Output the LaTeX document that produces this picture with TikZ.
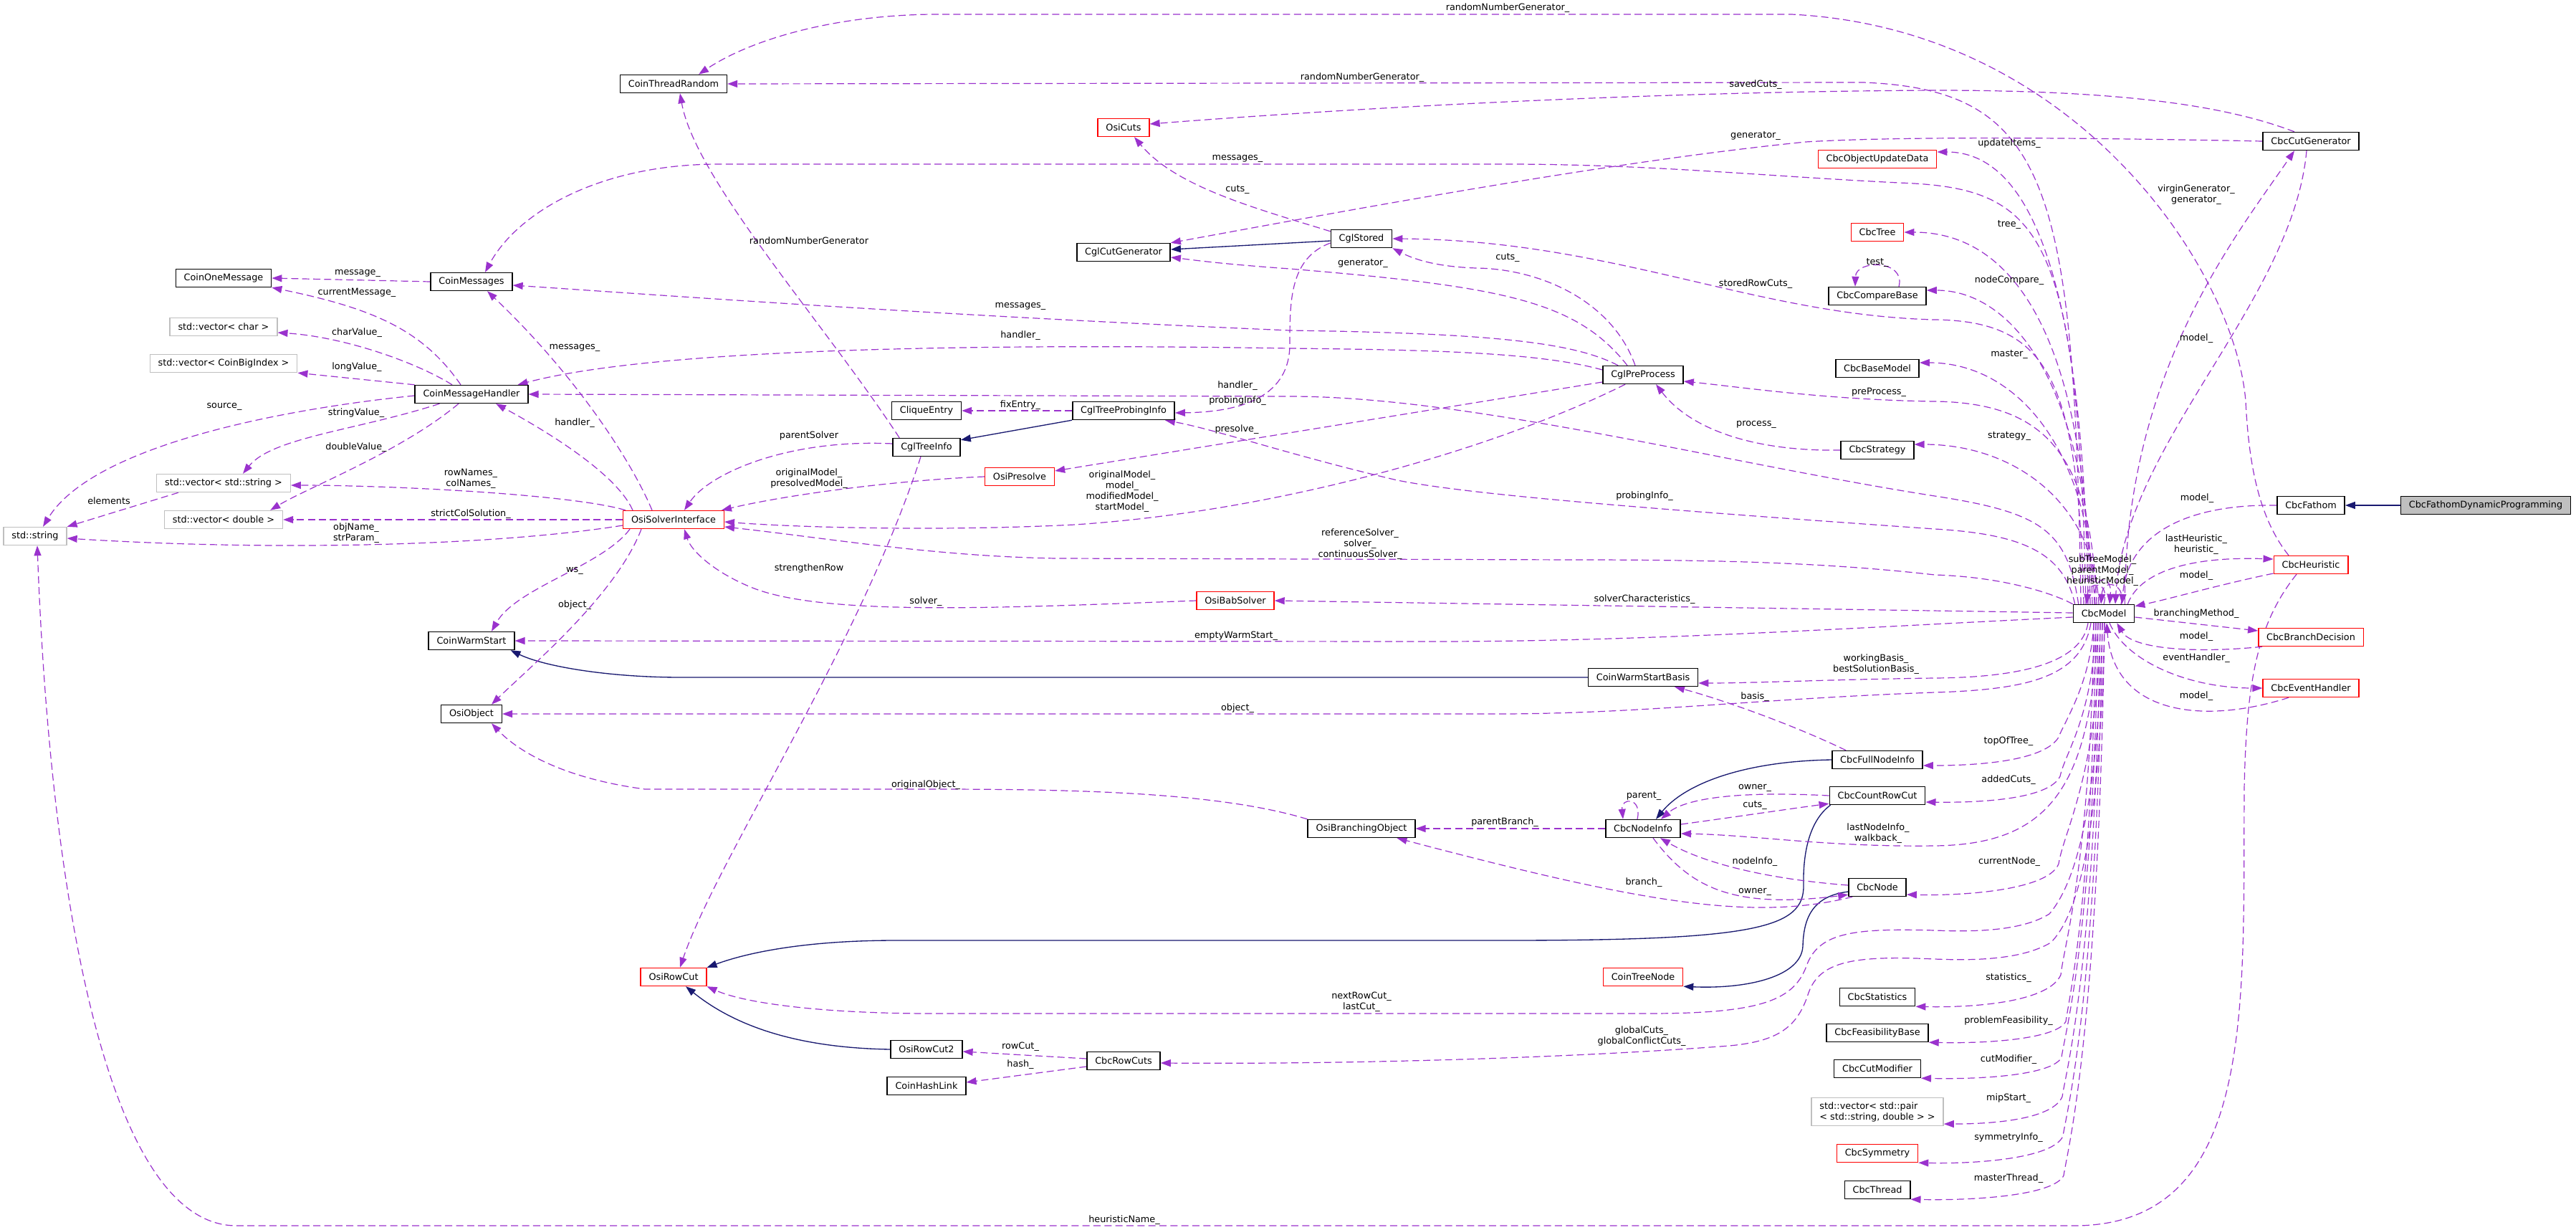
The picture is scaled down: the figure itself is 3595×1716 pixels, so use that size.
\documentclass[tikz,border=0pt]{standalone}
\usepackage{fontspec}
\setmainfont{DejaVu Sans}
\usetikzlibrary{arrows.meta,calc}
\definecolor{purp}{RGB}{154,50,205}
\definecolor{navyb}{RGB}{25,25,112}
\definecolor{grayb}{RGB}{191,191,191}
\definecolor{redb}{RGB}{255,0,0}
\newcommand\dxfont{\fontsize{9.6pt}{11.3pt}\selectfont}
\pgfdeclarelayer{edges}
\pgfsetlayers{edges,main}
\tikzset{
  cls/.style={draw=black, fill=white, line width=1.1pt, minimum height=18.7pt, inner xsep=8.5pt, inner ysep=2pt, font=\dxfont},
  redcls/.style={cls, draw=redb},
  graycls/.style={cls, draw=grayb},
  focuscls/.style={cls, fill=grayb},
  lbl/.style={font=\dxfont, inner sep=0pt, align=center},
  coll/.style={draw=purp, line width=0.9pt, dash pattern=on 7.5pt off 4pt, -{Triangle[length=10.5pt,width=7.5pt]}},
  inh/.style={draw=navyb, line width=1pt, -{Triangle[length=10.5pt,width=7.5pt]}},
}
\begin{document}
\begin{tikzpicture}[x=0.75pt,y=-0.75pt]
\useasboundingbox (0,0) rectangle (3595,1716);
% ---------------- nodes ----------------
\node[focuscls] (CDP) at (3469,705) {CbcFathomDynamicProgramming};
\node[cls] (Fathom) at (3225,705) {CbcFathom};
\node[redcls] (Heur) at (3225,788) {CbcHeuristic};
\node[cls] (Model) at (2936,856) {CbcModel};
\node[redcls] (BrDec) at (3225,889) {CbcBranchDecision};
\node[redcls] (EvH) at (3225,960) {CbcEventHandler};
\node[cls] (CutGen) at (3225,197) {CbcCutGenerator};
\node[redcls] (ObjUpd) at (2620,222) {CbcObjectUpdateData};
\node[redcls] (Tree) at (2620,324) {CbcTree};
\node[cls] (CmpBase) at (2620,413) {CbcCompareBase};
\node[cls] (BaseModel) at (2620,514) {CbcBaseModel};
\node[cls] (Strategy) at (2620,628) {CbcStrategy};
\node[cls] (WSB) at (2293,945) {CoinWarmStartBasis};
\node[cls] (FullNI) at (2620,1060) {CbcFullNodeInfo};
\node[cls] (CRC) at (2620,1110) {CbcCountRowCut};
\node[cls] (Node) at (2620,1238) {CbcNode};
\node[cls] (Stats) at (2620,1391) {CbcStatistics};
\node[cls] (Feas) at (2620,1441) {CbcFeasibilityBase};
\node[cls] (CutMod) at (2620,1491) {CbcCutModifier};
\node[graycls, align=left, minimum height=29pt] (VecPair) at (2620,1551) {std::vector< std::pair\\< std::string, double > >};
\node[redcls] (Sym) at (2620,1609) {CbcSymmetry};
\node[cls] (Thread) at (2620,1660) {CbcThread};
\node[cls] (PreProc) at (2293,523) {CglPreProcess};
\node[cls] (NodeInfo) at (2293,1156) {CbcNodeInfo};
\node[redcls] (TreeNode) at (2293,1363) {CoinTreeNode};
\node[cls] (Stored) at (1900,333) {CglStored};
\node[cls] (OBO) at (1900,1156) {OsiBranchingObject};
\node[redcls] (OsiCuts) at (1568,178) {OsiCuts};
\node[cls] (CglCG) at (1568,352) {CglCutGenerator};
\node[cls] (TPI) at (1568,573) {CglTreeProbingInfo};
\node[redcls] (BabSolver) at (1724,838) {OsiBabSolver};
\node[cls] (RowCuts) at (1568,1480) {CbcRowCuts};
\node[redcls] (Presolve) at (1423,665) {OsiPresolve};
\node[cls] (Clique) at (1293,573) {CliqueEntry};
\node[cls] (TreeInfo) at (1293,624) {CglTreeInfo};
\node[cls] (RowCut2) at (1293,1464) {OsiRowCut2};
\node[cls] (HashLink) at (1293,1515) {CoinHashLink};
\node[cls] (CTR) at (940,117) {CoinThreadRandom};
\node[redcls] (OSI) at (940,725) {OsiSolverInterface};
\node[redcls] (RowCut) at (940,1363) {OsiRowCut};
\node[cls] (Msgs) at (658,393) {CoinMessages};
\node[cls] (CMH) at (658,550) {CoinMessageHandler};
\node[cls] (WS) at (658,894) {CoinWarmStart};
\node[cls] (OsiObj) at (658,996) {OsiObject};
\node[cls] (OneMsg) at (312,388) {CoinOneMessage};
\node[graycls] (VChar) at (312,456) {std::vector< char >};
\node[graycls] (VBig) at (312,507) {std::vector< CoinBigIndex >};
\node[graycls] (VStr) at (312,674) {std::vector< std::string >};
\node[graycls] (VDbl) at (312,725) {std::vector< double >};
\node[graycls] (Str) at (49,748) {std::string};
% ---------------- labels ----------------
\node[lbl] (l01) at (2104,11) {randomNumberGenerator\_};
\node[lbl] (l02) at (1901,108) {randomNumberGenerator\_};
\node[lbl] (l03) at (2450,118) {savedCuts\_};
\node[lbl] (l04) at (2450,190) {generator\_};
\node[lbl] (l05) at (2804,200) {updateItems\_};
\node[lbl] (l06) at (1727,221) {messages\_};
\node[lbl] (l07) at (1727,265) {cuts\_};
\node[lbl] (l08) at (3065,272) {virginGenerator\_\\generator\_};
\node[lbl] (l09) at (2804,314) {tree\_};
\node[lbl] (l10) at (1129,336) {randomNumberGenerator};
\node[lbl] (l11) at (2104,360) {cuts\_};
\node[lbl] (l12) at (2620,367) {test\_};
\node[lbl] (l13) at (1902,368) {generator\_};
\node[lbl] (l14) at (2804,391) {nodeCompare\_};
\node[lbl] (l15) at (2450,396) {storedRowCuts\_};
\node[lbl] (l16) at (1424,427) {messages\_};
\node[lbl] (l17) at (1424,468) {handler\_};
\node[lbl] (l18) at (3065,472) {model\_};
\node[lbl] (l19) at (2804,495) {master\_};
\node[lbl] (l20) at (1727,538) {handler\_};
\node[lbl] (l21) at (2622,547) {preProcess\_};
\node[lbl] (l22) at (1727,559) {probingInfo\_};
\node[lbl] (l23) at (1424,565) {fixEntry\_};
\node[lbl] (l24) at (2451,592) {process\_};
\node[lbl] (l25) at (1726,599) {presolve\_};
\node[lbl] (l26) at (1129,608) {parentSolver};
\node[lbl] (l27) at (2804,609) {strategy\_};
\node[lbl] (l28) at (1129,668) {originalModel\_\\presolvedModel\_};
\node[lbl] (l29) at (1566,686) {originalModel\_\\model\_\\modifiedModel\_\\startModel\_};
\node[lbl] (l30) at (2295,692) {probingInfo\_};
\node[lbl] (l31) at (3066,695) {model\_};
\node[lbl] (l32) at (3065,760) {lastHeuristic\_\\heuristic\_};
\node[lbl] (l33) at (2934,796) {subTreeModel\_\\parentModel\_\\heuristicModel\_};
\node[lbl] (l34) at (1898,759) {referenceSolver\_\\solver\_\\continuousSolver\_};
\node[lbl] (l35) at (1129,793) {strengthenRow};
\node[lbl] (l36) at (3065,803) {model\_};
\node[lbl] (l37) at (2295,836) {solverCharacteristics\_};
\node[lbl] (l38) at (1292,839) {solver\_};
\node[lbl] (l39) at (3065,856) {branchingMethod\_};
\node[lbl] (l40) at (1725,887) {emptyWarmStart\_};
\node[lbl] (l41) at (3065,888) {model\_};
\node[lbl] (l42) at (3065,918) {eventHandler\_};
\node[lbl] (l43) at (2618,927) {workingBasis\_\\bestSolutionBasis\_};
\node[lbl] (l44) at (3065,971) {model\_};
\node[lbl] (l45) at (2449,972) {basis\_};
\node[lbl] (l46) at (1727,988) {object\_};
\node[lbl] (l47) at (2803,1034) {topOfTree\_};
\node[lbl] (l48) at (2803,1088) {addedCuts\_};
\node[lbl] (l49) at (1292,1095) {originalObject\_};
\node[lbl] (l50) at (2449,1099) {owner\_};
\node[lbl] (l51) at (2294,1111) {parent\_};
\node[lbl] (l52) at (2449,1124) {cuts\_};
\node[lbl] (l53) at (2100,1147) {parentBranch\_};
\node[lbl] (l54) at (2621,1163) {lastNodeInfo\_\\walkback\_};
\node[lbl] (l55) at (2449,1202) {nodeInfo\_};
\node[lbl] (l56) at (2804,1202) {currentNode\_};
\node[lbl] (l57) at (2294,1231) {branch\_};
\node[lbl] (l58) at (2449,1244) {owner\_};
\node[lbl] (l59) at (2803,1364) {statistics\_};
\node[lbl] (l60) at (1900,1398) {nextRowCut\_\\lastCut\_};
\node[lbl] (l61) at (2803,1424) {problemFeasibility\_};
\node[lbl] (l62) at (2291,1446) {globalCuts\_\\globalConflictCuts\_};
\node[lbl] (l63) at (1424,1460) {rowCut\_};
\node[lbl] (l64) at (2803,1478) {cutModifier\_};
\node[lbl] (l65) at (1424,1485) {hash\_};
\node[lbl] (l66) at (2803,1532) {mipStart\_};
\node[lbl] (l67) at (2803,1587) {symmetryInfo\_};
\node[lbl] (l68) at (2803,1644) {masterThread\_};
\node[lbl] (l69) at (1569,1702) {heuristicName\_};
\node[lbl] (l70) at (499,381) {message\_};
\node[lbl] (l71) at (498,408) {currentMessage\_};
\node[lbl] (l72) at (498,464) {charValue\_};
\node[lbl] (l73) at (498,512) {longValue\_};
\node[lbl] (l74) at (313,567) {source\_};
\node[lbl] (l75) at (497,576) {stringValue\_};
\node[lbl] (l76) at (497,624) {doubleValue\_};
\node[lbl] (l77) at (152,699) {elements};
\node[lbl] (l78) at (802,485) {messages\_};
\node[lbl] (l79) at (802,590) {handler\_};
\node[lbl] (l80) at (657,668) {rowNames\_\\colNames\_};
\node[lbl] (l81) at (657,717) {strictColSolution\_};
\node[lbl] (l82) at (497,744) {objName\_\\strParam\_};
\node[lbl] (l83) at (802,796) {ws\_};
\node[lbl] (l84) at (802,844) {object\_};
% ---------------- edges ----------------
\begin{pgfonlayer}{edges}
\fill[white] (0,0) rectangle (3595,1716);
% inheritance
\draw[inh] (CDP.west) -- (Fathom.east);
\draw[inh] ($(Stored.west)+(0,3)$) -- ($(CglCG.east)+(0,-4)$);
\draw[inh] (TPI.south west) -- ($(TreeInfo.north east)+(0,3)$);
\draw[inh] (WSB.west) -- (950,945) .. controls (850,945) and (760,930) .. ($(WS.south east)+(-6,0)$);
\draw[inh] (FullNI.west) .. controls (2430,1062) and (2350,1095) .. ($(NodeInfo.north)+(18,0)$);
\draw[inh] ($(CRC.south west)+(2,0)$) .. controls (2525,1145) and (2516,1190) .. (2517,1235) .. controls (2518,1295) and (2450,1312) .. (2100,1312) -- (1250,1312) .. controls (1120,1312) and (1040,1330) .. (RowCut.north east);
\draw[inh] ($(Node.west)+(0,6)$) .. controls (2530,1250) and (2517,1280) .. (2516,1320) .. controls (2514,1362) and (2440,1380) .. (TreeNode.south east);
\draw[inh] (RowCut2.west) .. controls (1120,1462) and (1030,1435) .. ($(RowCut.south)+(17,0)$);
% CbcModel top fan
\draw[coll] ($(Model.north)+(-32,0)$) .. controls (2895,260) and (2860,125) .. (2600,115) -- (CTR.east);
\draw[coll] ($(Model.north)+(-25,0)$) .. controls (2900,320) and (2850,262) .. (2650,255) .. controls (2450,245) and (2300,229) .. (2100,229) -- (1000,229) .. controls (830,230) and (720,300) .. ($(Msgs.north)+(19,0)$);
\draw[coll] ($(Model.north)+(-22,0)$) .. controls (2908,380) and (2830,212) .. ($(ObjUpd.east)+(0,-10)$);
\draw[coll] ($(Model.north)+(-19,0)$) .. controls (2912,470) and (2810,324) .. (Tree.east);
\draw[coll] ($(Model.north)+(-16,0)$) .. controls (2914,540) and (2810,405) .. ($(CmpBase.east)+(0,-8)$);
\draw[coll] ($(Model.north)+(-13,0)$) .. controls (2917,620) and (2810,506) .. ($(BaseModel.east)+(0,-8)$);
\draw[coll] ($(Model.north)+(-10,0)$) .. controls (2918,640) and (2860,562) .. (2700,560) .. controls (2550,558) and (2430,540) .. ($(PreProc.east)+(0,9)$);
\draw[coll] ($(Model.north)+(-7,0)$) .. controls (2922,700) and (2810,620) .. ($(Strategy.east)+(0,-8)$);
\draw[coll] ($(Model.north)+(-28,0)$) .. controls (2900,530) and (2860,448) .. (2700,446) .. controls (2450,440) and (2250,335) .. (Stored.east);
\draw[coll] ($(Model.north west)+(8,0)$) .. controls (2885,740) and (2850,715) .. (2700,692) .. controls (2400,645) and (2050,553) .. (1800,553) -- (CMH.east);
\draw[coll] ($(Model.north west)+(3,0)$) .. controls (2880,770) and (2820,745) .. (2700,738) .. controls (2300,710) and (2050,690) .. (1950,670) .. controls (1800,635) and (1700,600) .. ($(TPI.south east)+(-14,0)$);
\draw[coll] (Model.north west) .. controls (2870,830) and (2800,805) .. (2700,802) .. controls (2550,785) and (2400,781) .. (2200,781) -- (1474,779) .. controls (1300,776) and (1150,750) .. ($(OSI.east)+(0,10)$);
\draw[coll] ($(Model.west)+(0,-1)$) -- (BabSolver.east);
\draw[coll] ($(Model.west)+(0,5)$) .. controls (2600,875) and (2300,895) .. (2000,895) -- (WS.east);
% self loops
\draw[coll] (Model.north) .. controls (2945,810) and (2915,810) .. ($(Model.north)+(-24,0)$);
\draw[coll] ($(Model.north)+(-12,0)$) .. controls (2918,800) and (2948,800) .. ($(Model.north)+(8,0)$);
\draw[coll] ($(Model.north)+(24,0)$) .. controls (2968,815) and (2935,805) .. ($(Model.north)+(-4,0)$);
% CbcModel bottom fan
\draw[coll] ($(Model.south)+(-22,0)$) .. controls (2905,925) and (2820,945) .. (2700,946) .. controls (2550,948) and (2450,953) .. ($(WSB.east)+(0,8)$);
\draw[coll] ($(Model.south)+(-18,0)$) .. controls (2905,945) and (2830,962) .. (2700,966) .. controls (2450,975) and (2300,995) .. (2100,996) -- (OsiObj.east);
\draw[coll] ($(Model.south)+(-14,0)$) .. controls (2918,950) and (2885,1000) .. (2872,1030) .. controls (2850,1062) and (2760,1068) .. ($(FullNI.east)+(0,8)$);
\draw[coll] ($(Model.south)+(-11,0)$) .. controls (2921,1000) and (2882,1050) .. (2875,1083) .. controls (2860,1114) and (2770,1120) .. ($(CRC.east)+(0,9)$);
\draw[coll] ($(Model.south)+(-8,0)$) .. controls (2918,1100) and (2860,1178) .. (2700,1180) .. controls (2550,1182) and (2450,1165) .. ($(NodeInfo.east)+(0,7)$);
\draw[coll] ($(Model.south)+(-5,0)$) .. controls (2928,1080) and (2880,1160) .. (2873,1205) .. controls (2860,1240) and (2750,1250) .. ($(Node.east)+(0,10)$);
\draw[coll] ($(Model.south)+(-2,0)$) .. controls (2928,1150) and (2890,1240) .. (2860,1275) .. controls (2820,1300) and (2750,1300) .. (2700,1298) .. controls (2590,1295) and (2540,1300) .. (2522,1345) .. controls (2505,1395) and (2460,1414) .. (2300,1414) -- (1300,1414) .. controls (1150,1414) and (1040,1400) .. (RowCut.south east);
\draw[coll] ($(Model.south)+(1,0)$) .. controls (2930,1200) and (2892,1285) .. (2862,1315) .. controls (2820,1340) and (2750,1340) .. (2700,1338) .. controls (2590,1333) and (2540,1340) .. (2524,1385) .. controls (2508,1435) and (2480,1455) .. (2400,1460) .. controls (2200,1475) and (1900,1485) .. ($(RowCuts.east)+(0,3)$);
\draw[coll] ($(Model.south)+(-14,0)$) .. controls (2918,1200) and (2880,1320) .. (2876,1360) .. controls (2860,1397) and (2760,1406) .. (Stats.south east);
\draw[coll] ($(Model.south)+(-11,0)$) .. controls (2920,1250) and (2888,1390) .. (2883,1425) .. controls (2870,1450) and (2770,1456) .. (Feas.south east);
\draw[coll] ($(Model.south)+(-8,0)$) .. controls (2922,1300) and (2882,1440) .. (2877,1475) .. controls (2865,1500) and (2765,1506) .. (CutMod.south east);
\draw[coll] ($(Model.south)+(-5,0)$) .. controls (2924,1350) and (2883,1495) .. (2878,1530) .. controls (2865,1560) and (2790,1568) .. ($(VecPair.south east)+(0,-3)$);
\draw[coll] ($(Model.south)+(-2,0)$) .. controls (2926,1400) and (2884,1550) .. (2879,1585) .. controls (2866,1615) and (2765,1624) .. (Sym.south east);
\draw[coll] ($(Model.south)+(1,0)$) .. controls (2928,1450) and (2885,1605) .. (2880,1640) .. controls (2866,1668) and (2755,1675) .. (Thread.south east);
% right side
\draw[coll] (Fathom.west) .. controls (3060,703) and (2970,740) .. ($(Model.north east)+(-18,0)$);
\draw[coll] ($(Model.north east)+(-10,0)$) .. controls (2985,800) and (3050,776) .. ($(Heur.west)+(0,-8)$);
\draw[coll] ($(Heur.west)+(0,12)$) .. controls (3100,815) and (3030,835) .. ($(Model.north east)+(0,3)$);
\draw[coll] ($(Model.east)+(0,5)$) -- ($(BrDec.west)+(0,-9)$);
\draw[coll] ($(BrDec.south west)+(6,0)$) .. controls (3060,912) and (2975,905) .. ($(Model.south east)+(-25,0)$);
\draw[coll] ($(Model.south)+(8,0)$) .. controls (2965,920) and (3050,960) .. (EvH.west);
\draw[coll] ($(EvH.south)+(-31,0)$) .. controls (3080,1010) and (2950,1000) .. ($(Model.south)+(4,0)$);
% CbcCutGenerator
\draw[coll] ($(Model.north east)+(-14,0)$) .. controls (2965,520) and (3120,330) .. ($(CutGen.south)+(-23,0)$);
\draw[coll] ($(CutGen.south)+(-6,0)$) .. controls (3200,420) and (2965,620) .. ($(Model.north)+(16,0)$);
\draw[coll] ($(CutGen.north)+(-23,0)$) .. controls (3100,145) and (2950,126) .. (2700,126) .. controls (2300,128) and (1900,150) .. ($(OsiCuts.east)+(0,-5)$);
\draw[coll] (CutGen.west) .. controls (2900,192) and (2650,190) .. (2520,198) .. controls (2250,225) and (1900,290) .. (CglCG.north east);
% CbcHeuristic
\draw[coll] ($(Heur.north)+(-31,0)$) .. controls (3150,720) and (3138,640) .. (3134,560) .. controls (3120,380) and (2900,40) .. (2500,20) -- (1300,20) .. controls (1150,22) and (1040,60) .. ($(CTR.north)+(35,0)$);
\draw[coll] ($(Heur.south)+(-20,0)$) .. controls (3150,870) and (3135,950) .. (3132,1100) .. controls (3130,1400) and (3150,1705) .. (2900,1710) -- (330,1710) .. controls (150,1710) and (70,1250) .. ($(Str.south)+(3,0)$);
% left cluster
\draw[coll] (Msgs.west) -- (OneMsg.east);
\draw[coll] ($(CMH.north)+(-15,0)$) .. controls (590,460) and (520,430) .. (OneMsg.south east);
\draw[coll] ($(CMH.north)+(-27,0)$) .. controls (580,505) and (480,470) .. ($(VChar.east)+(0,8)$);
\draw[coll] (CMH.north west) -- (VBig.south east);
\draw[coll] ($(CMH.west)+(0,2)$) .. controls (400,570) and (130,620) .. ($(Str.north)+(11,0)$);
\draw[coll] ($(CMH.south west)+(35,0)$) .. controls (500,600) and (380,610) .. ($(VStr.north)+(27,0)$);
\draw[coll] ($(CMH.south)+(-18,0)$) .. controls (560,630) and (430,680) .. ($(VDbl.north east)+(-18,0)$);
\draw[coll] ($(VStr.south west)+(31,0)$) -- (Str.north east);
\draw[coll] ($(OSI.north west)+(14,0)$) .. controls (860,660) and (760,600) .. ($(CMH.south)+(34,0)$);
\draw[coll] ($(OSI.north)+(-30,0)$) .. controls (880,640) and (800,520) .. ($(Msgs.south)+(22,0)$);
\draw[coll] ($(OSI.north west)+(4,0)$) .. controls (800,690) and (550,677) .. ($(VStr.east)+(0,3)$);
\draw[coll] (OSI.west) -- (VDbl.east);
\draw[coll] ($(OSI.west)+(0,8)$) .. controls (700,760) and (400,770) .. ($(Str.east)+(0,3)$);
\draw[coll] ($(OSI.south west)+(10,0)$) .. controls (840,790) and (720,820) .. ($(WS.north)+(28,0)$);
\draw[coll] ($(OSI.south)+(-45,0)$) .. controls (860,830) and (740,930) .. ($(OsiObj.north)+(28,0)$);
\draw[coll] (OBO.north west) .. controls (1700,1105) and (1500,1101) .. (1300,1101) -- (900,1101) .. controls (780,1085) and (720,1045) .. ($(OsiObj.south)+(28,0)$);
% middle
\draw[coll] (NodeInfo.west) -- (OBO.east);
\draw[coll] ($(Node.south west)+(6,0)$) .. controls (2450,1285) and (2300,1262) .. ($(OBO.south east)+(-26,0)$);
\draw[coll] ($(Node.west)+(0,-3)$) .. controls (2450,1225) and (2370,1200) .. ($(NodeInfo.south)+(24,0)$);
\draw[coll] ($(NodeInfo.south)+(14,0)$) .. controls (2360,1240) and (2420,1268) .. ($(Node.south west)+(0,-3)$);
\draw[coll] (CRC.west) .. controls (2420,1103) and (2350,1115) .. ($(NodeInfo.north)+(25,0)$);
\draw[coll] ($(NodeInfo.east)+(0,-6)$) .. controls (2420,1140) and (2500,1128) .. ($(CRC.south west)+(0,-2)$);
\draw[coll] ($(NodeInfo.north)+(-8,0)$) .. controls (2292,1112) and (2262,1112) .. ($(NodeInfo.north)+(-28,0)$);
\draw[coll] ($(FullNI.north west)+(20,0)$) .. controls (2500,1010) and (2400,975) .. ($(WSB.south)+(44,0)$);
\draw[coll] ($(RowCuts.west)+(0,-3)$) -- ($(RowCut2.east)+(0,3)$);
\draw[coll] ($(RowCuts.west)+(0,8)$) -- ($(HashLink.east)+(0,-5)$);
\draw[coll] (TPI.west) -- (Clique.east);
\draw[coll] ($(TreeInfo.west)+(0,-5)$) .. controls (1100,612) and (990,660) .. ($(OSI.north)+(15,0)$);
\draw[coll] ($(TreeInfo.north west)+(10,0)$) .. controls (1150,450) and (970,250) .. ($(CTR.south)+(9,0)$);
\draw[coll] ($(TreeInfo.south)+(-8,0)$) .. controls (1200,900) and (1000,1200) .. ($(RowCut.north)+(9,0)$);
\draw[coll] (Presolve.west) .. controls (1250,670) and (1100,690) .. ($(OSI.north east)+(-4,0)$);
\draw[coll] (BabSolver.west) .. controls (1400,848) and (1150,860) .. (1050,820) .. controls (1000,800) and (965,770) .. ($(OSI.south)+(15,0)$);
\draw[coll] ($(PreProc.west)+(0,10)$) -- ($(Presolve.east)+(0,-8)$);
\draw[coll] ($(PreProc.south west)+(32,0)$) .. controls (2100,620) and (1800,712) .. (1500,732) .. controls (1300,742) and (1100,735) .. ($(OSI.east)+(0,3)$);
\draw[coll] ($(PreProc.west)+(0,-7)$) .. controls (2150,492) and (2000,488) .. (1800,486) .. controls (1300,478) and (900,490) .. ($(CMH.north east)+(-15,0)$);
\draw[coll] ($(PreProc.north west)+(22,0)$) .. controls (2200,480) and (2100,465) .. (1800,461) .. controls (1300,440) and (900,410) .. ($(Msgs.east)+(0,5)$);
\draw[coll] ($(PreProc.north)+(-11,0)$) .. controls (2250,420) and (2150,375) .. (2060,374) .. controls (2000,372) and (1970,360) .. (Stored.south east);
\draw[coll] ($(PreProc.north)+(-22,0)$) .. controls (2200,420) and (2100,400) .. (1800,375) .. controls (1700,368) and (1660,362) .. ($(CglCG.east)+(0,7)$);
\draw[coll] (Strategy.west) .. controls (2450,630) and (2360,600) .. ($(PreProc.south)+(18,0)$);
\draw[coll] ($(CmpBase.north)+(30,0)$) .. controls (2660,362) and (2590,362) .. ($(CmpBase.north)+(-31,0)$);
\draw[coll] ($(Stored.north west)+(0,3)$) .. controls (1750,290) and (1640,260) .. ($(OsiCuts.south)+(15,0)$);
\draw[coll] ($(Stored.west)+(0,6)$) .. controls (1800,360) and (1800,420) .. (1800,480) .. controls (1800,560) and (1720,575) .. ($(TPI.east)+(0,3)$);
\end{pgfonlayer}
\end{tikzpicture}
\end{document}
